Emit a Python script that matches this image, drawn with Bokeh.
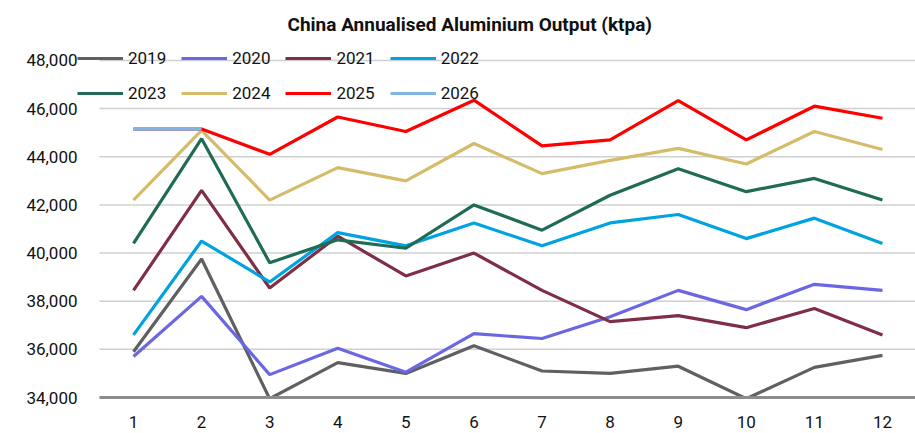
from bokeh.plotting import figure
from bokeh.models import Range1d, Legend, LegendItem, NumeralTickFormatter, FixedTicker, Title
from bokeh.embed import file_html
from bokeh.resources import INLINE

months = [1, 2, 3, 4, 5, 6, 7, 8, 9, 10, 11, 12]
y2019 = [35900, 39750, 33950, 35450, 35000, 36150, 35100, 35000, 35300, 33950, 35250, 35750]
y2020 = [35700, 38200, 34950, 36050, 35050, 36650, 36450, 37350, 38450, 37650, 38700, 38450]
y2021 = [38450, 42600, 38550, 40700, 39050, 40000, 38450, 37150, 37400, 36900, 37700, 36600]
y2022 = [36600, 40500, 38800, 40850, 40300, 41250, 40300, 41250, 41600, 40600, 41450, 40400]
y2023 = [40400, 44750, 39600, 40550, 40200, 42000, 40950, 42400, 43500, 42550, 43100, 42200]
y2024 = [42200, 45100, 42200, 43550, 43000, 44550, 43300, 43850, 44350, 43700, 45050, 44300]
y2025 = [45150, 45150, 44100, 45650, 45050, 46350, 44450, 44700, 46330, 44700, 46100, 45600]
months2026 = [1, 2]
y2026 = [45150, 45150]

series_names = ["2019", "2020", "2021", "2022", "2023", "2024", "2025", "2026"]
series_x = [months] * 7 + [months2026]
series_y = [y2019, y2020, y2021, y2022, y2023, y2024, y2025, y2026]
colors = ["#606060", "#6B67E3", "#7E2F45", "#00A3E0", "#1F6B55", "#D4BC6B", "#FF0000", "#80B6E6"]
y_ticks = [34000, 36000, 38000, 40000, 42000, 44000, 46000, 48000]

FONT = "Roboto"
X_START, X_END = 0.1776, 12.485
GRID_START = 0.5

p = figure(width=915, height=433, output_backend="svg", toolbar_location=None,
           x_range=Range1d(X_START, X_END), y_range=Range1d(34000, 48621),
           min_border_left=77, min_border_right=0, min_border_top=44, min_border_bottom=36)
p.outline_line_color = None
p.background_fill_color = "white"
p.border_fill_color = "white"

t = Title(text="China Annualised Aluminium Output (ktpa)", align="left", offset=210,
          text_font=FONT, text_font_style="bold", text_font_size="19px",
          text_color="#111111", standoff=20)
p.title = t

# horizontal gridlines (start at the first category edge, like the reference)
p.segment(x0=[GRID_START] * len(y_ticks), y0=y_ticks, x1=[X_END] * len(y_ticks), y1=y_ticks,
          line_color="#D0D0D0", line_width=1.5)

renderers = []
for xs, ys, c in zip(series_x, series_y, colors):
    r = p.line(xs, ys, line_color=c, line_width=3.2)
    renderers.append(r)

items = [LegendItem(label=n, renderers=[r]) for n, r in zip(series_names, renderers)]
legend = Legend(items=items, orientation="horizontal", ncols=4, location=(0, 294),
                glyph_width=46, glyph_height=20, label_height=20, label_width=37,
                label_standoff=5, spacing=15, padding=0, margin=0,
                border_line_color=None, background_fill_alpha=0,
                label_text_font=FONT, label_text_font_size="17px", label_text_color="#111111")
p.add_layout(legend, "center")

p.xaxis.ticker = FixedTicker(ticks=months)
p.xaxis.bounds = (GRID_START, X_END)
p.xaxis.major_tick_line_color = None
p.xaxis.minor_tick_line_color = None
p.xaxis.axis_line_color = "#8C8C8C"
p.xaxis.axis_line_width = 3
p.xaxis.major_label_standoff = 12
p.xaxis.major_label_text_font = FONT
p.xaxis.major_label_text_font_size = "17px"
p.xaxis.major_label_text_color = "#111111"

p.yaxis.ticker = FixedTicker(ticks=y_ticks)
p.yaxis.formatter = NumeralTickFormatter(format="0,0")
p.yaxis.axis_line_color = None
p.yaxis.major_tick_line_color = None
p.yaxis.minor_tick_line_color = None
p.yaxis.major_tick_out = 0
p.yaxis.major_label_standoff = 0
p.yaxis.major_label_text_font = FONT
p.yaxis.major_label_text_font_size = "17px"
p.yaxis.major_label_text_color = "#111111"

p.xgrid.grid_line_color = None
p.ygrid.grid_line_color = None

open("out.html", "w").write(file_html(p, INLINE))
